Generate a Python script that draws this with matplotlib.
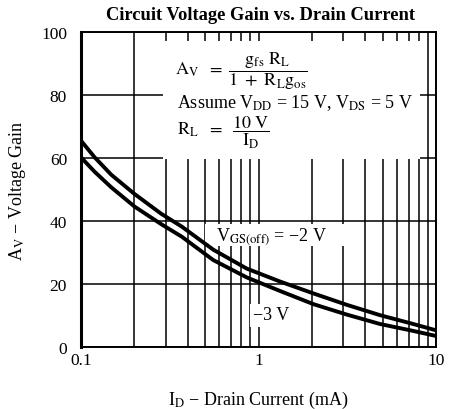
import matplotlib
matplotlib.use("Agg")
import matplotlib.pyplot as plt
from matplotlib.patches import Rectangle

plt.rcParams['font.family'] = ['Liberation Serif', 'DejaVu Serif']
plt.rcParams['mathtext.fontset'] = 'stix'

# Data
current_vgs_minus2 = [0.1, 0.119, 0.148, 0.2, 0.283, 0.37, 0.556, 0.858, 1.32, 2.04, 3.14, 4.84, 7.45, 10.0]
gain_vgs_minus2 = [65.5, 60.3, 54.7, 48.6, 42.3, 38.2, 30.9, 24.9, 20.8, 17.0, 13.4, 10.1, 7.3, 5.3]
current_vgs_minus3 = [0.1, 0.119, 0.148, 0.2, 0.283, 0.37, 0.556, 0.858, 1.32, 2.04, 3.14, 4.84, 7.45, 10.0]
gain_vgs_minus3 = [60.2, 55.7, 50.7, 44.6, 39.0, 35.0, 27.6, 22.1, 17.8, 13.6, 10.3, 7.3, 5.1, 3.5]
y_ticks = [0, 20, 40, 60, 80, 100]
x_ticks = [0.1, 1, 10]
x_tick_labels = ["0.1", "1", "10"]

fig = plt.figure(figsize=(4.51, 4.10), dpi=100)
ax = fig.add_axes([81/451, 1-348/410, 355/451, 315/410])
ax.set_xscale('log')
ax.set_xlim(0.1, 10)
ax.set_ylim(0, 100)

# grid
ax.set_xticks([m*10.0**e for e in (-1, 0) for m in range(2, 10)], minor=True)
ax.grid(True, which='both', axis='x', color='black', lw=1.1, zorder=1)
ax.set_yticks(y_ticks)
ax.grid(True, which='major', axis='y', color='black', lw=1.1, zorder=1)
ax.set_xticks(x_ticks)
ax.set_xticklabels(x_tick_labels)
ax.tick_params(which='both', length=0, labelsize=12.5)
ax.tick_params(axis='x', pad=3.5)
ax.tick_params(axis='y', pad=10)
for s in ax.spines.values():
    s.set_linewidth(1.4)
ax.spines['left'].set_linewidth(2.2)

# white boxes behind annotations
for (x0, y0, w, h) in [(0.231, 0.597, 0.724, 0.374),
                       (0.349, 0.32, 0.395, 0.07),
                       (0.476, 0.063, 0.118, 0.073)]:
    ax.add_patch(Rectangle((x0, y0), w, h, transform=ax.transAxes,
                           facecolor='white', edgecolor='none', zorder=2))

ax.plot(current_vgs_minus2, gain_vgs_minus2, color='black', lw=2.8, zorder=3)
ax.plot(current_vgs_minus3, gain_vgs_minus3, color='black', lw=2.8, zorder=3)

tf = ax.transAxes
def fx(px):
    return (px - 81) / 355
def fy(py):
    return (348 - py) / 315

fs = 13
ax.text(fx(175), fy(71), r'$\mathrm{A_V}\ \ =\ \dfrac{\mathrm{g_{fs}\ R_L}}{\mathrm{1\ +\ R_L g_{os}}}$',
        transform=tf, fontsize=fs, va='center', ha='left', zorder=4)
ax.text(fx(177), fy(103), r'Assume V$_\mathrm{DD}$ = 15 V, V$_\mathrm{DS}$ = 5 V',
        transform=tf, fontsize=fs, va='center', ha='left', zorder=4)
ax.text(fx(177), fy(133), r'$\mathrm{R_L}\ \ =\ \ \dfrac{\mathrm{10\ V}}{\mathrm{I_D}}$',
        transform=tf, fontsize=fs, va='center', ha='left', zorder=4)
ax.text(fx(216), fy(237), r'V$_\mathrm{GS(off)}$ = −2 V',
        transform=tf, fontsize=fs, va='center', ha='left', zorder=4)
ax.text(fx(253), fy(316), '−3 V',
        transform=tf, fontsize=fs, va='center', ha='left', zorder=4)

fig.text(260/451, 1-15/410, 'Circuit Voltage Gain vs. Drain Current',
         ha='center', va='center', fontsize=13.3, fontweight='bold')
fig.text(258/451, 1-400/410, r'I$_\mathrm{D}$ − Drain Current (mA)',
         ha='center', va='center', fontsize=13)
fig.text(18/451, 1-191/410, r'A$_\mathrm{V}$ − Voltage Gain',
         ha='center', va='center', fontsize=13, rotation=90)

fig.savefig('out.png', dpi=100)
